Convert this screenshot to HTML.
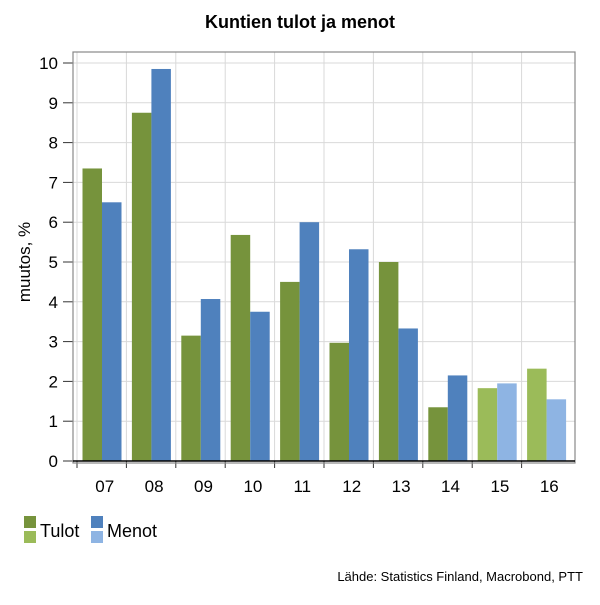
<!DOCTYPE html>
<html><head><meta charset="utf-8"><style>
body{margin:0;background:#fff;font-family:"Liberation Sans",Arial,sans-serif}
svg text{font-family:"Liberation Sans",Arial,sans-serif}
</style></head><body>
<svg id="c" width="600" height="600">
<rect width="600" height="600" fill="#fff"/>
<text x="300" y="28" text-anchor="middle" font-size="18" font-weight="bold">Kuntien tulot ja menot</text>
<text transform="translate(30,262) rotate(-90)" text-anchor="middle" font-size="17">muutos, %</text>
<g id="grid"></g><g id="bars"></g><g id="axes"></g>
<g>
<rect x="24" y="516" width="12" height="12" fill="#76933c"/>
<rect x="24" y="531" width="12" height="12" fill="#9bbb59"/>
<text x="40" y="537" font-size="18">Tulot</text>
<rect x="91" y="516" width="12" height="12" fill="#4f81bd"/>
<rect x="91" y="531" width="12" height="12" fill="#8eb4e3"/>
<text x="107" y="537" font-size="18">Menot</text>
</g>
<text x="583" y="581" text-anchor="end" font-size="13">Lähde: Statistics Finland, Macrobond, PTT</text>
</svg>
<script>
const categories=["07","08","09","10","11","12","13","14","15","16"];
const tulot=[7.35,8.75,3.15,5.68,4.5,2.97,5.0,1.35,1.83,2.32];
const menot=[6.5,9.85,4.07,3.75,6.0,5.32,3.33,2.15,1.95,1.55];
const forecast=[false,false,false,false,false,false,false,false,true,true];
const yTicks=[0,1,2,3,4,5,6,7,8,9,10];
const NS="http://www.w3.org/2000/svg";
const L=73,R=575,T=52,B=463,X0=77,BW=49.4;
const y=v=>461-v*39.8;
const x=i=>X0+i*BW;
function mk(p,t,a){const e=document.createElementNS(NS,t);for(const k in a)e.setAttribute(k,a[k]);p.appendChild(e);return e;}
const g=document.getElementById('grid'),b=document.getElementById('bars'),ax=document.getElementById('axes');
yTicks.forEach(v=>{
 const l=mk(g,'line',{x1:L,x2:R,y1:y(v),y2:y(v),stroke:'#d9d9d9','stroke-width':1});
 
 
 const tk=mk(ax,'line',{x1:63,x2:L,y1:y(v),y2:y(v),stroke:'#333'});
 
 
 const t=mk(ax,'text',{x:58,y:y(v)+6,'text-anchor':'end','font-size':17});
 t.textContent=v;
 
 
});
categories.forEach((c,i)=>{
 const vl=mk(g,'line',{x1:x(i),x2:x(i),y1:T,y2:B,stroke:'#d9d9d9'});
 
 
 const bx=x(i)+5.5,w=19.5;
 const r1=mk(b,'rect',{x:bx,y:y(tulot[i]),width:w,height:y(0)-y(tulot[i]),fill:forecast[i]?'#9bbb59':'#76933c'});
 
 
 const r2=mk(b,'rect',{x:bx+w,y:y(menot[i]),width:w,height:y(0)-y(menot[i]),fill:forecast[i]?'#8eb4e3':'#4f81bd'});
 
 
 const tk=mk(ax,'line',{x1:x(i),x2:x(i),y1:461,y2:468,stroke:'#333'});
 
 
 const t=mk(ax,'text',{x:x(i)+BW/2+3,y:492,'text-anchor':'middle','font-size':17});
 t.textContent=c;
 
 
});
const fr=mk(ax,'rect',{x:L,y:T,width:R-L,height:B-T,fill:'none',stroke:'#888','stroke-width':1.2});


const zl=mk(ax,'line',{x1:L,x2:R,y1:y(0),y2:y(0),stroke:'#000','stroke-width':1.5});


</script>
</body></html>
